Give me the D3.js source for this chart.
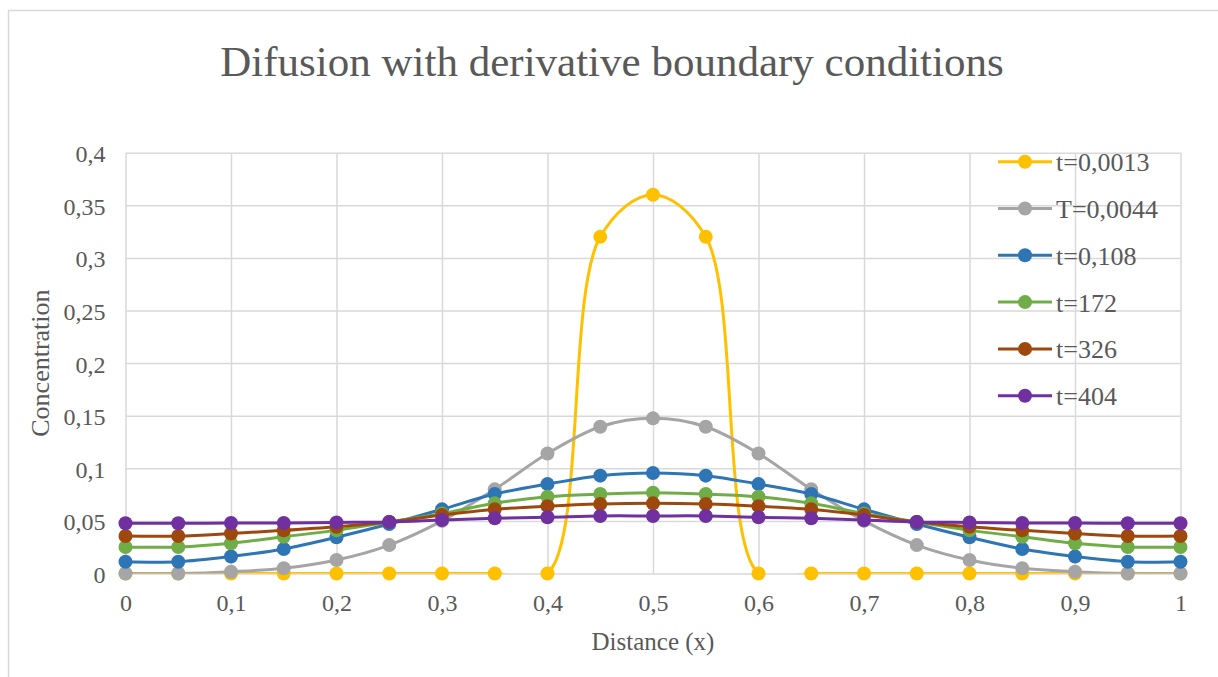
<!DOCTYPE html>
<html>
<head>
<meta charset="utf-8">
<script src="https://cdn.jsdelivr.net/npm/d3@7"></script>
<style>
  html, body { margin: 0; padding: 0; background: #fff; }
  svg { display: block; }
  text { font-family: "Liberation Serif", "Times New Roman", serif; fill: #595959; }
</style>
</head>
<body>
<svg id="chart" width="1218" height="677"></svg>
<script>
// Concentration profiles along the rod at successive times
const xValues = [0, 0.05, 0.1, 0.15, 0.2, 0.25, 0.3, 0.35, 0.4, 0.45, 0.5,
                 0.55, 0.6, 0.65, 0.7, 0.75, 0.8, 0.85, 0.9, 0.95, 1];

const seriesNames = ["t=0,0013", "T=0,0044", "t=0,108", "t=172", "t=326", "t=404"];
const seriesColors = ["#FFC000", "#A5A5A5", "#2E75B6", "#70AD47", "#9E480E", "#7030A0"];

const c_t0013 = [0, 0, 0, 0, 0, 0, 0, 0, 0, 0.32, 0.36,
                 0.32, 0, 0, 0, 0, 0, 0, 0, 0, 0];
const c_t0044 = [0, 0, 0.0017, 0.005, 0.0128, 0.027, 0.05, 0.08, 0.114, 0.1395, 0.1475,
                 0.1395, 0.114, 0.08, 0.05, 0.027, 0.0128, 0.005, 0.0017, 0, 0];
const c_t0108 = [0.0112, 0.0112, 0.0162, 0.0233, 0.0344, 0.047, 0.061, 0.0755, 0.085, 0.093, 0.0955,
                 0.093, 0.085, 0.0755, 0.061, 0.047, 0.0344, 0.0233, 0.0162, 0.0112, 0.0112];
const c_t172 = [0.0252, 0.0252, 0.0287, 0.035, 0.041, 0.049, 0.057, 0.0667, 0.073, 0.0755, 0.0768,
                0.0755, 0.073, 0.0667, 0.057, 0.049, 0.041, 0.035, 0.0287, 0.0252, 0.0252];
const c_t326 = [0.0356, 0.0356, 0.038, 0.041, 0.0445, 0.049, 0.0556, 0.061, 0.064, 0.066, 0.0667,
                0.066, 0.064, 0.061, 0.0556, 0.049, 0.0445, 0.041, 0.038, 0.0356, 0.0356];
const c_t404 = [0.0477, 0.0477, 0.048, 0.048, 0.0485, 0.049, 0.0508, 0.0525, 0.0534, 0.0547, 0.0547,
                0.0547, 0.0534, 0.0525, 0.0508, 0.049, 0.0485, 0.048, 0.048, 0.0477, 0.0477];

const seriesValues = [c_t0013, c_t0044, c_t0108, c_t172, c_t326, c_t404];

const xTicks = [0, 0.1, 0.2, 0.3, 0.4, 0.5, 0.6, 0.7, 0.8, 0.9, 1];
const yTicks = [0, 0.05, 0.1, 0.15, 0.2, 0.25, 0.3, 0.35, 0.4];

// Layout
const plot = { left: 125.5, right: 1180.5, top: 152.7, bottom: 573.5 };
const gridColor = "#D9D9D9";

const svg = d3.select("#chart");
const locale = d3.formatLocale({ decimal: ",", thousands: ".", grouping: [3], currency: ["", ""] });
const fmt = locale.format("~g");

const x = d3.scaleLinear().domain([0, 1]).range([plot.left, plot.right]);
const y = d3.scaleLinear().domain([0, 0.4]).range([plot.bottom, plot.top]);

// Chart frame
svg.append("rect")
  .attr("x", 8.5).attr("y", 10.5).attr("width", 1400).attr("height", 900)
  .attr("fill", "#fff").attr("stroke", gridColor).attr("stroke-width", 1.5);

// Title
svg.append("text")
  .attr("x", 612).attr("y", 76)
  .attr("text-anchor", "middle")
  .attr("font-size", 43)
  .text("Difusion with derivative boundary conditions");

// Horizontal gridlines + y labels
const yAxis = d3.axisLeft(y)
  .tickValues(yTicks)
  .tickSize(-(plot.right - plot.left))
  .tickPadding(20)
  .tickFormat(fmt);
const gy = svg.append("g").attr("transform", `translate(${plot.left},0)`).call(yAxis);
gy.select(".domain").remove();
gy.selectAll(".tick line").attr("stroke", gridColor).attr("stroke-width", 1.5);
gy.selectAll(".tick text")
  .attr("font-size", 24).attr("fill", "#595959")
  .attr("font-family", "Liberation Serif, serif")
  .attr("dy", 9);

// Vertical gridlines + x labels
const xAxis = d3.axisBottom(x)
  .tickValues(xTicks)
  .tickSize(-(plot.bottom - plot.top))
  .tickPadding(20)
  .tickFormat(fmt);
const gx = svg.append("g").attr("transform", `translate(0,${plot.bottom})`).call(xAxis);
gx.select(".domain").remove();
gx.selectAll(".tick line").attr("stroke", gridColor).attr("stroke-width", 1.5);
gx.selectAll(".tick text")
  .attr("font-size", 24).attr("fill", "#595959")
  .attr("font-family", "Liberation Serif, serif")
  .attr("y", 0).attr("dy", 37.5);

// Axis titles
svg.append("text")
  .attr("x", (plot.left + plot.right) / 2).attr("y", 650)
  .attr("text-anchor", "middle").attr("font-size", 25)
  .text("Distance (x)");
svg.append("text")
  .attr("transform", `translate(49,${(plot.top + plot.bottom) / 2}) rotate(-90)`)
  .attr("text-anchor", "middle").attr("font-size", 26)
  .text("Concentration");

// Clip smoothed lines to the plot area
svg.append("clipPath").attr("id", "plotClip")
  .append("rect")
  .attr("x", plot.left - 20).attr("y", plot.top - 2)
  .attr("width", plot.right - plot.left + 40)
  .attr("height", plot.bottom - plot.top + 2);

const line = d3.line()
  .x(d => x(d[0]))
  .y(d => y(d[1]))
  .curve(d3.curveCatmullRom.alpha(0.5));

const seriesG = svg.append("g");
seriesValues.forEach((vals, i) => {
  const pts = xValues.map((xv, j) => [xv, vals[j]]);
  const g = seriesG.append("g");
  g.append("path")
    .attr("d", line(pts))
    .attr("fill", "none")
    .attr("stroke", seriesColors[i])
    .attr("stroke-width", 3)
    .attr("stroke-linejoin", "round")
    .attr("clip-path", "url(#plotClip)");
  g.selectAll("circle").data(pts).enter().append("circle")
    .attr("cx", d => x(d[0]))
    .attr("cy", d => y(d[1]))
    .attr("r", 7)
    .attr("fill", seriesColors[i]);
});

// Legend
const legend = svg.append("g");
seriesNames.forEach((name, i) => {
  const ly = 161.7 + i * 46.8;
  legend.append("line")
    .attr("x1", 998).attr("x2", 1052).attr("y1", ly).attr("y2", ly)
    .attr("stroke", seriesColors[i]).attr("stroke-width", 3);
  legend.append("circle")
    .attr("cx", 1025).attr("cy", ly).attr("r", 7)
    .attr("fill", seriesColors[i]);
  legend.append("text")
    .attr("x", 1056).attr("y", ly + 9.5)
    .attr("font-size", 26)
    .text(name);
});
</script>
</body>
</html>
